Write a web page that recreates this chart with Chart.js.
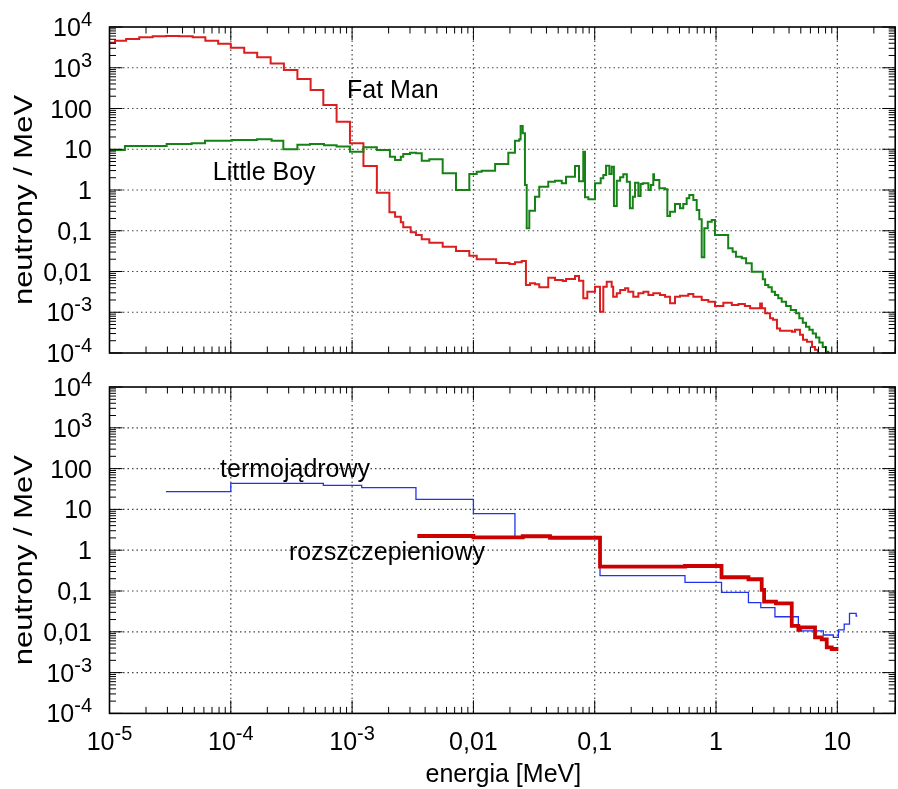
<!DOCTYPE html>
<html>
<head>
<meta charset="utf-8">
<script src="https://cdn.jsdelivr.net/npm/chart.js@4.4.1/dist/chart.umd.min.js"></script>
<style>
  html, body { margin: 0; padding: 0; background: #fff; }
  #wrap { position: relative; width: 898px; height: 789px; overflow: hidden; }
  canvas { position: absolute; left: 0; }
  #top { top: 0; }
  #bottom { top: 360px; }
</style>
</head>
<body>
<div id="wrap">
  <canvas id="top" width="898" height="380" style="width:898px;height:380px"></canvas>
  <canvas id="bottom" width="898" height="429" style="width:898px;height:429px"></canvas>
</div>
<script>
// tick labels (log axes, gnuplot style)
const xTickValues = [1e-5, 1e-4, 1e-3, 0.01, 0.1, 1, 10];
const xTickLabels = ['10^-5', '10^-4', '10^-3', '0,01', '0,1', '1', '10'];
const yTickValues = [1e-4, 1e-3, 0.01, 0.1, 1, 10, 100, 1e3, 1e4];
const yTickLabels = ['10^-4', '10^-3', '0,01', '0,1', '1', '10', '100', '10^3', '10^4'];

// Fat Man: bin edges [MeV] (last one closes the histogram) and neutrons / MeV
const fatManE = [1e-5, 1.11e-5, 1.37e-5, 1.76e-5, 2.27e-5, 2.92e-5, 3.76e-5, 4.85e-5, 6.17e-5, 7.87e-5,
  1.0e-4, 1.29e-4, 1.65e-4, 2.13e-4, 2.74e-4, 3.54e-4, 4.55e-4, 5.79e-4, 7.45e-4, 9.6e-4,
  1.24e-3, 1.60e-3, 2.03e-3, 2.26e-3, 2.52e-3, 2.64e-3, 3.04e-3, 3.36e-3, 3.75e-3, 4.33e-3,
  5.58e-3, 7.19e-3, 9.25e-3, 1.065e-2, 1.54e-2, 1.98e-2, 2.20e-2, 2.50e-2, 2.71e-2, 2.93e-2,
  3.22e-2, 3.49e-2, 4.14e-2, 4.71e-2, 5.45e-2, 5.80e-2, 6.88e-2, 7.42e-2, 8.05e-2, 8.69e-2,
  0.1006, 0.1106, 0.1177, 0.1256, 0.138, 0.142, 0.152, 0.162, 0.178, 0.189,
  0.208, 0.229, 0.252, 0.277, 0.304, 0.345, 0.380, 0.418, 0.459, 0.505,
  0.591, 0.650, 0.762, 0.864, 0.981, 1.149, 1.35, 1.53, 1.73, 1.91,
  2.31, 2.39, 2.54, 2.79, 2.95, 3.18, 3.37, 4.23, 4.48, 4.92,
  5.21, 5.62, 6.19, 6.55, 6.93, 7.48, 8.7];
const fatManN = [4120, 4610, 5080, 5590, 5910, 6010, 5910, 5590, 4610, 3890,
  3100, 2340, 1800, 1280, 881, 530, 284, 122, 47.4, 14.0,
  3.88, 0.86, 0.284, 0.221, 0.161, 0.122, 0.0916, 0.0787, 0.0617, 0.0509,
  0.0406, 0.0318, 0.0244, 0.0199, 0.0162, 0.0153, 0.0168, 0.0181, 0.00466, 0.00513,
  0.00485, 0.0041, 0.00705, 0.00618, 0.00585, 0.00654, 0.00776, 0.00595, 0.0022, 0.00319,
  0.00424, 0.00103, 0.00424, 0.00562, 0.00424, 0.00241, 0.00292, 0.00352, 0.00387, 0.00319,
  0.00241, 0.00292, 0.00319, 0.00265, 0.00292, 0.00265, 0.00241, 0.00166, 0.00241, 0.00255,
  0.00281, 0.00241, 0.0020, 0.00182, 0.00142, 0.00172, 0.00151, 0.00159, 0.00142, 0.00125,
  0.00163, 0.00125, 9.4e-4, 7.1e-4, 6.5e-4, 4.0e-4, 3.5e-4, 3.3e-4, 3.7e-4, 2.8e-4,
  2.1e-4, 1.9e-4, 1.4e-4, 1.2e-4, 8.9e-5, 7e-5];

// Little Boy
const littleBoyE = [1e-5, 1.34e-5, 2.96e-5, 4.76e-5, 6.13e-5, 1.02e-4, 1.64e-4, 2.17e-4, 2.71e-4, 3.54e-4,
  4.50e-4, 5.87e-4, 7.45e-4, 9.6e-4, 1.24e-3, 1.60e-3, 2.05e-3, 2.26e-3, 2.52e-3, 2.64e-3,
  3.0e-3, 3.36e-3, 3.75e-3, 4.33e-3, 5.58e-3, 7.19e-3, 9.25e-3, 1.065e-2, 1.17e-2, 1.51e-2,
  1.94e-2, 2.20e-2, 2.39e-2, 2.45e-2, 2.55e-2, 2.66e-2, 2.75e-2, 2.89e-2, 3.22e-2, 3.49e-2,
  4.14e-2, 4.71e-2, 5.35e-2, 5.80e-2, 6.88e-2, 7.42e-2, 8.05e-2, 8.32e-2, 8.86e-2, 0.1006,
  0.112, 0.1177, 0.124, 0.132, 0.138, 0.144, 0.152, 0.162, 0.172, 0.184,
  0.195, 0.206, 0.215, 0.229, 0.239, 0.249, 0.277, 0.290, 0.304, 0.308,
  0.341, 0.380, 0.397, 0.418, 0.459, 0.505, 0.537, 0.573, 0.602, 0.650,
  0.693, 0.728, 0.762, 0.801, 0.855, 0.922, 0.981, 1.26, 1.37, 1.46,
  1.63, 1.77, 1.97, 2.43, 2.54, 2.70, 2.88, 3.06, 3.26, 3.48,
  3.78, 4.13, 4.57, 4.86, 5.19, 5.52, 5.88, 6.27, 6.67, 7.11,
  7.58, 8.07, 8.43, 9.0];
const littleBoyN = [9.58, 12.0, 13.5, 14.0, 16.2, 16.9, 17.5, 16.2, 10.0, 12.9,
  13.5, 12.5, 11.6, 8.7, 11.2, 9.58, 6.56, 5.45, 6.56, 7.65,
  8.23, 7.96, 5.24, 5.67, 2.57, 1.0, 2.47, 2.81, 2.98, 4.35,
  8.23, 16.2, 17.5, 37.2, 24.6, 1.33, 0.115, 0.31, 0.685, 1.2,
  1.6, 1.69, 1.46, 2.12, 3.88, 1.63, 8.71, 0.662, 0.591, 1.46,
  1.94, 2.33, 3.95, 2.47, 3.73, 0.405, 1.69, 2.05, 2.43, 1.6,
  0.356, 0.685, 1.51, 0.712, 1.40, 1.46, 1.0, 1.33, 2.43, 1.76,
  1.10, 1.04, 0.23, 0.293, 0.453, 0.356, 0.453, 0.625, 0.754, 0.568,
  0.323, 0.191, 0.0223, 0.115, 0.167, 0.184, 0.0787, 0.0371, 0.0306, 0.0231,
  0.0211, 0.0159, 0.0099, 0.00644, 0.00466, 0.0041, 0.00319, 0.00265, 0.0022, 0.00182,
  0.00142, 0.00114, 9.4e-4, 7.1e-4, 5.5e-4, 4.4e-4, 3.7e-4, 3.0e-4, 2.4e-4, 1.8e-4,
  1.4e-4, 1.08e-4, 8.9e-5];

// thermonuclear spectrum (bottom panel)
const thermoE = [2.92e-5, 1.0e-4, 5.79e-4, 1.20e-3, 3.36e-3, 1.0e-2, 2.20e-2, 0.1106, 0.555, 1.11,
  1.85, 2.34, 3.06, 4.77, 7.67, 9.27, 10.2, 11.4, 12.6, 14.3, 14.6];
const thermoN = [27.2, 43.6, 39.0, 34.0, 17.7, 7.85, 2.14, 0.237, 0.163, 0.093,
  0.0517, 0.039, 0.0234, 0.0105, 0.00835, 0.0073, 0.0111, 0.0155, 0.0284, 0.0244];

// fission spectrum (bottom panel)
const fissionE = [3.45e-3, 1.0e-2, 2.55e-2, 4.28e-2, 0.1106, 0.555, 1.11, 1.85, 2.38, 2.49,
  3.12, 4.21, 4.77, 4.92, 6.55, 7.44, 8.18, 8.99, 10.2];
const fissionN = [2.23, 2.07, 2.2, 2.02, 0.394, 0.41, 0.217, 0.194, 0.106, 0.0547,
  0.05, 0.0139, 0.0111, 0.0129, 0.0073, 0.00655, 0.00417, 0.00379];

const FONT = '"Liberation Sans", Arial, Helvetica, sans-serif';
const FS = 25, SUP = 20;

// histogram edges + values -> step points
function steps(edges, vals) {
  let pts = vals.map((v, i) => ({ x: edges[i], y: v }));
  pts.push({ x: edges[edges.length - 1], y: vals[vals.length - 1] });
  return pts;
}

// draw "10^-5" style label with superscript
function drawSup(ctx, text, x, y, align) {
  let parts = text.split('^');
  ctx.font = FS + 'px ' + FONT;
  let wb = ctx.measureText(parts[0]).width;
  let ws = 0;
  if (parts[1]) { ctx.font = SUP + 'px ' + FONT; ws = ctx.measureText(parts[1]).width; }
  let x0 = align === 'right' ? x - wb - ws : align === 'center' ? x - (wb + ws) / 2 : x;
  ctx.textAlign = 'left';
  ctx.textBaseline = 'alphabetic';
  ctx.font = FS + 'px ' + FONT;
  ctx.fillText(parts[0], x0, y);
  if (parts[1]) {
    ctx.font = SUP + 'px ' + FONT;
    ctx.fillText(parts[1], x0 + wb, y - 10);
  }
}

const gnuplotFrame = {
  id: 'gnuplotFrame',
  beforeDatasetsDraw(chart) {
    const { ctx, chartArea: a } = chart;
    const xs = chart.scales.x, ys = chart.scales.y;
    ctx.save();
    ctx.beginPath();
    ctx.strokeStyle = '#444';
    ctx.lineWidth = 1.2;
    ctx.setLineDash([1.5, 3]);
    xTickValues.forEach(v => {
      const px = xs.getPixelForValue(v);
      if (px > a.left + 2 && px < a.right - 2) { ctx.moveTo(px, a.top); ctx.lineTo(px, a.bottom); }
    });
    yTickValues.forEach(v => {
      const py = ys.getPixelForValue(v);
      if (py > a.top + 2 && py < a.bottom - 2) { ctx.moveTo(a.left, py); ctx.lineTo(a.right, py); }
    });
    ctx.stroke();
    ctx.restore();
  },
  afterDraw(chart, args, opts) {
    const { ctx, chartArea: a } = chart;
    const xs = chart.scales.x, ys = chart.scales.y;
    ctx.save();
    ctx.strokeStyle = '#000';
    ctx.lineWidth = 1;
    ctx.beginPath();
    // minor + major ticks, inward, mirrored
    for (let k = -5; k <= 1; k++) {
      for (let m = 1; m <= 9; m++) {
        const v = m * Math.pow(10, k);
        if (v > 30.01) continue;
        const px = xs.getPixelForValue(v);
        const len = m === 1 ? 13 : 6.5;
        ctx.moveTo(px, a.bottom); ctx.lineTo(px, a.bottom - len);
        ctx.moveTo(px, a.top); ctx.lineTo(px, a.top + len);
      }
    }
    for (let k = -4; k <= 4; k++) {
      for (let m = 1; m <= 9; m++) {
        const v = m * Math.pow(10, k);
        if (v > 1.0001e4) continue;
        const py = ys.getPixelForValue(v);
        const len = m === 1 ? 13 : 6.5;
        ctx.moveTo(a.left, py); ctx.lineTo(a.left + len, py);
        ctx.moveTo(a.right, py); ctx.lineTo(a.right - len, py);
      }
    }
    ctx.stroke();
    ctx.lineWidth = 1.6;
    ctx.strokeRect(a.left, a.top, a.right - a.left, a.bottom - a.top);

    ctx.fillStyle = '#000';
    yTickValues.forEach((v, i) => drawSup(ctx, yTickLabels[i], 92, ys.getPixelForValue(v) + 9, 'right'));
    if (opts.xLabels) {
      xTickValues.forEach((v, i) => drawSup(ctx, xTickLabels[i], xs.getPixelForValue(v), a.bottom + 36.6, 'center'));
      ctx.font = FS + 'px ' + FONT;
      ctx.textAlign = 'center';
      ctx.fillText('energia [MeV]', (a.left + a.right) / 2 + 1, a.bottom + 68.6);
    }
    // y axis title (stretched along its length like the original)
    ctx.save();
    ctx.translate(32, (a.top + a.bottom) / 2 + 10);
    ctx.rotate(-Math.PI / 2);
    ctx.scale(1.24, 1);
    ctx.font = FS + 'px ' + FONT;
    ctx.textAlign = 'center';
    ctx.textBaseline = 'alphabetic';
    ctx.fillText('neutrony / MeV', 0, 0);
    ctx.restore();
    // curve names
    ctx.font = FS + 'px ' + FONT;
    ctx.textAlign = 'left';
    (opts.notes || []).forEach(n => {
      ctx.fillText(n.text, xs.getPixelForValue(n.x), ys.getPixelForValue(n.y));
    });
    ctx.restore();
  }
};

function makeChart(id, datasets, padding, frameOpts) {
  return new Chart(document.getElementById(id), {
    type: 'scatter',
    data: { datasets: datasets },
    options: {
      responsive: false,
      animation: false,
      devicePixelRatio: 1,
      layout: { padding: padding },
      elements: { point: { radius: 0 } },
      plugins: { legend: { display: false }, tooltip: { enabled: false }, gnuplotFrame: frameOpts },
      scales: {
        x: { type: 'logarithmic', min: 1e-5, max: 30, display: false },
        y: { type: 'logarithmic', min: 1e-4, max: 1e4, display: false }
      }
    },
    plugins: [gnuplotFrame]
  });
}

// note: Chart.js paints dataset 0 on top
const topChart = makeChart('top', [
  { data: steps(littleBoyE, littleBoyN), showLine: true, stepped: 'before', borderColor: '#168216', borderWidth: 2 },
  { data: steps(fatManE, fatManN), showLine: true, stepped: 'before', borderColor: '#dc1e1e', borderWidth: 2 }
], { left: 109.5, right: 2.8, top: 27, bottom: 27 }, {
  xLabels: false,
  notes: [{ text: 'Fat Man', x: 9.08e-4, y: 181 }, { text: 'Little Boy', x: 7.1e-5, y: 1.76 }]
});

const bottomChart = makeChart('bottom', [
  { data: steps(fissionE, fissionN), showLine: true, stepped: 'before', borderColor: '#cc0000', borderWidth: 3.8 },
  { data: steps(thermoE, thermoN), showLine: true, stepped: 'before', borderColor: '#2233ee', borderWidth: 1.3 }
], { left: 109.5, right: 2.8, top: 27, bottom: 75.6 }, {
  xLabels: true,
  notes: [{ text: 'termojądrowy', x: 8.15e-5, y: 63.2 }, { text: 'rozszczepieniowy', x: 3.02e-4, y: 0.575 }]
});
</script>
</body>
</html>
